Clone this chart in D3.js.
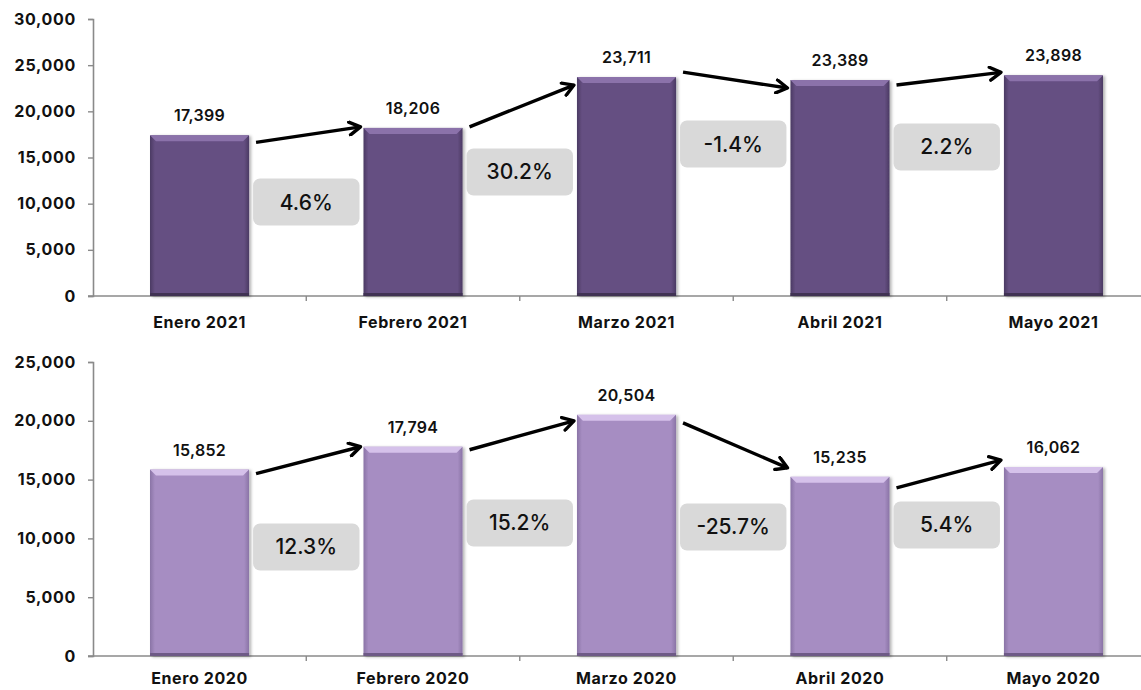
<!DOCTYPE html>
<html>
<head>
<meta charset="utf-8">
<script src="https://cdn.jsdelivr.net/npm/d3@7"></script>
<style>
  body { margin: 0; background: #fff; }
  text { font-family: Inter, "Noto Sans", sans-serif; fill: #111; }
</style>
</head>
<body>
<script>
// data
var months2021 = ["Enero 2021", "Febrero 2021", "Marzo 2021", "Abril 2021", "Mayo 2021"];
var values2021 = [17399, 18206, 23711, 23389, 23898];
var change2021 = ["4.6%", "30.2%", "-1.4%", "2.2%"];
var ticks2021 = [0, 5000, 10000, 15000, 20000, 25000, 30000];

var months2020 = ["Enero 2020", "Febrero 2020", "Marzo 2020", "Abril 2020", "Mayo 2020"];
var values2020 = [15852, 17794, 20504, 15235, 16062];
var change2020 = ["12.3%", "15.2%", "-25.7%", "5.4%"];
var ticks2020 = [0, 5000, 10000, 15000, 20000, 25000];

var W = 1141, H = 690;
var fmt = d3.format(",");

var svg = d3.select("body").append("svg")
    .attr("width", W)
    .attr("height", H);

var defs = svg.append("defs");

// arrow head
defs.append("marker")
    .attr("id", "head")
    .attr("markerUnits", "userSpaceOnUse")
    .attr("viewBox", "0 0 16 16")
    .attr("refX", 13).attr("refY", 8)
    .attr("markerWidth", 16).attr("markerHeight", 16)
    .attr("orient", "auto")
  .append("path")
    .attr("d", "M2,1.5 L13,8 L2,14.5")
    .attr("fill", "none")
    .attr("stroke", "#000")
    .attr("stroke-width", 3.4)
    .attr("stroke-linecap", "round")
    .attr("stroke-linejoin", "round");

var shadow = defs.append("filter").attr("id", "shadow")
    .attr("x", "-10%").attr("y", "-10%").attr("width", "130%").attr("height", "130%");
shadow.append("feDropShadow").attr("dx", 2).attr("dy", 1)
    .attr("stdDeviation", 1.5).attr("flood-color", "#000").attr("flood-opacity", 0.3);

function barGradient(id, edge, mid) {
  var g = defs.append("linearGradient").attr("id", id)
      .attr("x1", "0").attr("x2", "1").attr("y1", "0").attr("y2", "0");
  g.append("stop").attr("offset", "0").attr("stop-color", edge);
  g.append("stop").attr("offset", "0.05").attr("stop-color", mid);
  g.append("stop").attr("offset", "0.95").attr("stop-color", mid);
  g.append("stop").attr("offset", "1").attr("stop-color", edge);
}
barGradient("dark", "#4b3a63", "#654f82");
barGradient("light", "#8a74a6", "#a68dc2");

function drawPanel(cfg) {
  var x = d3.scaleBand()
      .domain(cfg.months)
      .range([93, 1160])
      .paddingInner(0.536)
      .paddingOuter(0.267);

  var y = d3.scaleLinear()
      .domain([0, d3.max(cfg.ticks)])
      .range([cfg.bottom, cfg.top]);

  var g = svg.append("g");
  var bw = x.bandwidth();

  // y axis
  var yAxis = g.append("g")
      .attr("transform", "translate(93,0)")
      .call(d3.axisLeft(y).tickValues(cfg.ticks).tickSize(5).tickPadding(12).tickFormat(fmt));
  yAxis.select(".domain").attr("stroke", "#8a8a8a").attr("stroke-width", 1.6);
  yAxis.selectAll(".tick line").attr("stroke", "#8a8a8a").attr("stroke-width", 1.4);
  yAxis.selectAll(".tick text")
      .attr("font-size", 16).attr("font-weight", 700)
      .attr("font-family", "Inter, sans-serif").attr("fill", "#111")
      .attr("letter-spacing", "0.7px");

  // x axis line and band boundary ticks
  g.append("line")
      .attr("x1", 88).attr("x2", W)
      .attr("y1", y(0)).attr("y2", y(0))
      .attr("stroke", "#8a8a8a").attr("stroke-width", 1.6);
  g.selectAll(".btick")
      .data(cfg.months.slice(1))
      .enter().append("line")
      .attr("x1", function(d) { return x(d) - x.step() * x.paddingInner() / 2; })
      .attr("x2", function(d) { return x(d) - x.step() * x.paddingInner() / 2; })
      .attr("y1", y(0)).attr("y2", y(0) + 5)
      .attr("stroke", "#8a8a8a").attr("stroke-width", 1.4);

  // category labels
  g.selectAll(".cat")
      .data(cfg.months)
      .enter().append("text")
      .attr("x", function(d) { return x(d) + bw / 2; })
      .attr("y", y(0) + cfg.labelGap)
      .attr("text-anchor", "middle")
      .attr("font-size", 16).attr("font-weight", 700)
      .attr("letter-spacing", "0.6px")
      .text(function(d) { return d; });

  // bars with a bevel look
  var bars = g.selectAll(".bar")
      .data(cfg.values)
      .enter().append("g")
      .attr("filter", "url(#shadow)");

  bars.append("rect")
      .attr("x", function(d, i) { return x(cfg.months[i]); })
      .attr("y", function(d) { return y(d); })
      .attr("width", bw)
      .attr("height", function(d) { return y(0) - y(d); })
      .attr("fill", "url(#" + cfg.grad + ")");

  bars.append("polygon")
      .attr("points", function(d, i) {
        var x0 = x(cfg.months[i]), y0 = y(d), b = 6;
        return [[x0, y0], [x0 + bw, y0], [x0 + bw - b, y0 + b], [x0 + b, y0 + b]].join(" ");
      })
      .attr("fill", cfg.bevel);

  bars.append("rect")
      .attr("x", function(d, i) { return x(cfg.months[i]); })
      .attr("y", y(0) - 3)
      .attr("width", bw)
      .attr("height", 3)
      .attr("fill", cfg.edge);

  // value labels
  g.selectAll(".val")
      .data(cfg.values)
      .enter().append("text")
      .attr("x", function(d, i) { return x(cfg.months[i]) + bw / 2; })
      .attr("y", function(d) { return y(d) - 14; })
      .attr("text-anchor", "middle")
      .attr("font-size", 16).attr("font-weight", 600)
      .attr("letter-spacing", "0.3px")
      .text(function(d) { return fmt(d); });

  // change boxes
  var boxes = g.selectAll(".box")
      .data(cfg.changes)
      .enter().append("g");

  boxes.append("rect")
      .attr("x", function(d, i) { return x(cfg.months[i]) + bw + 4; })
      .attr("y", function(d, i) { return y(cfg.boxLevel[i]) - 23.5; })
      .attr("width", x.step() - bw - 8)
      .attr("height", 47)
      .attr("rx", 7)
      .attr("fill", "#d9d9d9");

  boxes.append("text")
      .attr("x", function(d, i) { return x(cfg.months[i]) + bw + x.step() / 2 - bw / 2; })
      .attr("y", function(d, i) { return y(cfg.boxLevel[i]) + 7.5; })
      .attr("text-anchor", "middle")
      .attr("font-size", 21).attr("font-weight", 500)
      .text(function(d) { return d; });

  // arrows between consecutive bars
  g.selectAll(".arrow")
      .data(cfg.values.slice(1))
      .enter().append("line")
      .attr("x1", function(d, i) { return x(cfg.months[i]) + bw + 7; })
      .attr("y1", function(d, i) { return y(cfg.values[i]) + cfg.nudge[i][0]; })
      .attr("x2", function(d, i) { return x(cfg.months[i + 1]) - 3; })
      .attr("y2", function(d, i) { return y(d) + cfg.nudge[i][1]; })
      .attr("stroke", "#000")
      .attr("stroke-width", 3.4)
      .attr("marker-end", "url(#head)");
}

drawPanel({
  months: months2021, values: values2021, changes: change2021, ticks: ticks2021,
  top: 19, bottom: 296, grad: "dark", bevel: "#8b72aa", edge: "#3f3153", labelGap: 32,
  boxLevel: [10180, 13430, 16460, 16140],
  nudge: [[7, -1], [-1, 8], [-5, 8], [5, -3]]
});

drawPanel({
  months: months2020, values: values2020, changes: change2020, ticks: ticks2020,
  top: 362, bottom: 656, grad: "light", bevel: "#d5c1ea", edge: "#6e5a86", labelGap: 28,
  boxLevel: [9270, 11310, 10970, 11140],
  nudge: [[4, 0], [3, 6], [8, -9], [11, -7]]
});
</script>
</body>
</html>
